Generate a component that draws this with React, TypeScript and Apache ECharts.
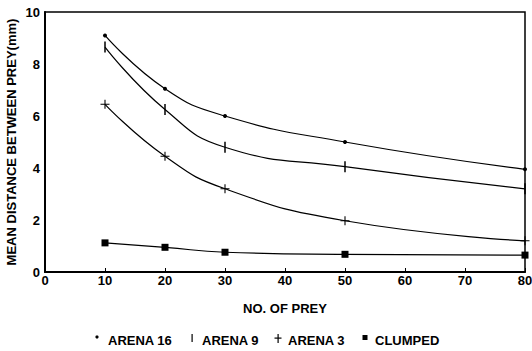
import React, { useEffect, useRef } from "react";
import * as echarts from "echarts";

const xValues = [10, 20, 30, 50, 80];
const arena16 = [9.1, 7.05, 6.0, 5.0, 3.95];
const arena9 = [8.65, 6.25, 4.8, 4.05, 3.2];
const arena3 = [6.45, 4.45, 3.2, 1.97, 1.2];
const clumped = [1.12, 0.95, 0.76, 0.68, 0.65];
const seriesNames = ["ARENA 16", "ARENA 9", "ARENA 3", "CLUMPED"];
const xAxisName = "NO. OF PREY";
const yAxisName = "MEAN DISTANCE BETWEEN PREY(mm)";

const FONT = "Liberation Sans";
const plusPath = "path://M0,4.4H10V5.6H0Z M4.4,0H5.6V10H4.4Z";

function pairs(vals: number[]) {
  return xValues.map((x, i) => [x, vals[i]]);
}

export default function App() {
  const ref = useRef<HTMLDivElement>(null);
  useEffect(() => {
    if (!ref.current) return;
    const chart = echarts.init(ref.current, undefined, { renderer: "svg" });
    const lineBase = {
      type: "line" as const,
      smooth: 0.5,
      lineStyle: { color: "#000", width: 1.2 },
      itemStyle: { color: "#000" },
      showSymbol: true,
    };
    const legendY = 340;
    const txt = (x: number, t: string) => ({
      type: "text",
      x,
      y: legendY,
      style: {
        text: t,
        fill: "#000",
        font: `bold 13px "${FONT}"`,
        textVerticalAlign: "middle",
        verticalAlign: "middle",
      },
    });
    chart.setOption({
      animation: false,
      backgroundColor: "#fff",
      grid: {
        left: 45,
        right: 7,
        top: 12,
        bottom: 79,
        containLabel: false,
        outerBoundsMode: "none",
        show: true,
        borderColor: "#000",
        borderWidth: 1.5,
        backgroundColor: "transparent",
      },
      xAxis: {
        type: "value",
        min: 0,
        max: 80,
        interval: 10,
        name: xAxisName,
        nameLocation: "middle",
        nameGap: 30,
        nameMoveOverlap: false,
        nameTextStyle: { fontFamily: FONT, fontWeight: "bold", fontSize: 13, color: "#000" },
        axisLine: { show: true, lineStyle: { color: "#000", width: 2 } },
        axisTick: { show: true, inside: true, length: 4, lineStyle: { color: "#000" } },
        splitLine: { show: false },
        axisLabel: { margin: 2, fontFamily: FONT, fontWeight: "bold", fontSize: 13, color: "#000" },
      },
      yAxis: {
        type: "value",
        min: 0,
        max: 10,
        interval: 2,
        name: yAxisName,
        nameLocation: "middle",
        nameGap: 27,
        nameMoveOverlap: false,
        nameTextStyle: { fontFamily: FONT, fontWeight: "bold", fontSize: 13, color: "#000" },
        axisLine: { show: true, lineStyle: { color: "#000", width: 2 } },
        axisTick: { show: false },
        splitLine: { show: false },
        axisLabel: { margin: 5, fontFamily: FONT, fontWeight: "bold", fontSize: 13, color: "#000" },
      },
      series: [
        { ...lineBase, name: seriesNames[0], data: pairs(arena16), symbol: "circle", symbolSize: 4 },
        { ...lineBase, name: seriesNames[1], data: pairs(arena9), symbol: "rect", symbolSize: [1.5, 11] },
        { ...lineBase, name: seriesNames[2], data: pairs(arena3), symbol: plusPath, symbolSize: 9 },
        { ...lineBase, name: seriesNames[3], data: pairs(clumped), symbol: "rect", symbolSize: 7 },
      ],
      graphic: [
        { type: "circle", shape: { cx: 97, cy: 337, r: 1.6 }, style: { fill: "#000" } },
        { type: "rect", shape: { x: 191.5, y: 334, width: 1.2, height: 8 }, style: { fill: "#000" } },
        { type: "rect", shape: { x: 277.5, y: 334, width: 1.2, height: 9 }, style: { fill: "#000" } },
        { type: "rect", shape: { x: 274.5, y: 337.5, width: 7, height: 1.2 }, style: { fill: "#000" } },
        { type: "rect", shape: { x: 362.5, y: 335, width: 5, height: 5 }, style: { fill: "#000" } },
        txt(108, seriesNames[0]),
        txt(202, seriesNames[1]),
        txt(288, seriesNames[2]),
        txt(375, seriesNames[3]),
      ],
    });
    return () => chart.dispose();
  }, []);
  return <div ref={ref} style={{ width: 532, height: 351, position: "absolute", left: 0, top: 0 }} />;
}
